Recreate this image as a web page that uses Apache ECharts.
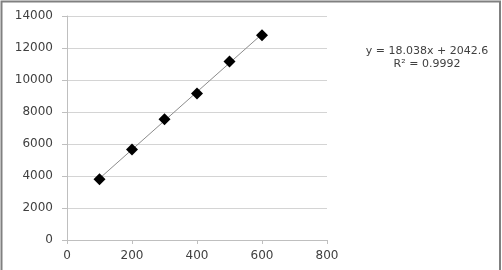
<!DOCTYPE html>
<html>
<head>
<meta charset="utf-8">
<script src="https://cdn.jsdelivr.net/npm/echarts@6/dist/echarts.min.js"></script>
<style>html,body{margin:0;padding:0;background:#fff;}#c{width:502px;height:270px;}</style>
</head>
<body>
<div id="c"></div>
<script>
var xValues = [100, 200, 300, 400, 500, 600];
var yValues = [3800, 5650, 7550, 9150, 11150, 12800];
var trendSlope = 18.038;
var trendIntercept = 2042.6;
var equationLines = ['y = 18.038x + 2042.6', 'R² = 0.9992'];
var xTicks = [0, 200, 400, 600, 800];
var yTicks = [0, 2000, 4000, 6000, 8000, 10000, 12000, 14000];

var points = xValues.map(function (x, i) { return [x, yValues[i]]; });
var xMinData = Math.min.apply(null, xValues), xMaxData = Math.max.apply(null, xValues);
var trend = [[xMinData, trendSlope * xMinData + trendIntercept], [xMaxData, trendSlope * xMaxData + trendIntercept]];

var chart = echarts.init(document.getElementById('c'), null, {renderer: 'canvas'});
var font = '"DejaVu Sans"';
chart.setOption({
  animation: false,
  backgroundColor: '#fff',
  textStyle: {fontFamily: font},
  grid: {left: 67, top: 16, width: 260, height: 224, containLabel: false},
  xAxis: {
    type: 'value', min: xTicks[0], max: xTicks[xTicks.length - 1], interval: 200,
    axisLine: {show: true, lineStyle: {color: '#bfbfbf', width: 1}},
    axisTick: {show: true, length: 4, lineStyle: {color: '#bfbfbf'}},
    splitLine: {show: false},
    axisLabel: {color: '#404040', fontFamily: font, fontSize: 12, margin: 10, formatter: function (v) { return String(v); }}
  },
  yAxis: {
    type: 'value', min: yTicks[0], max: yTicks[yTicks.length - 1], interval: 2000,
    axisLine: {show: true, lineStyle: {color: '#bfbfbf', width: 1}},
    axisTick: {show: true, length: 5, lineStyle: {color: '#bfbfbf'}},
    splitLine: {show: true, lineStyle: {color: '#d4d4d4', width: 1}},
    axisLabel: {color: '#404040', fontFamily: font, fontSize: 12, margin: 14, formatter: function (v) { return String(v); }}
  },
  series: [
    {
      type: 'line', data: trend, symbol: 'none', z: 2,
      lineStyle: {color: '#8c8c8c', width: 1}
    },
    {
      type: 'scatter', data: points, symbol: 'diamond', symbolSize: 12, z: 3,
      itemStyle: {color: '#000', opacity: 1}
    }
  ],
  graphic: [
    {type: 'rect', shape: {x: 1.5, y: 1.5, width: 498.5, height: 270}, style: {fill: null, stroke: '#808080', lineWidth: 2}, silent: true},
    {type: 'text', x: 427, y: 51, style: {text: equationLines[0], font: '11px "DejaVu Sans"', fill: '#404040', textAlign: 'center', textVerticalAlign: 'middle'}},
    {type: 'text', x: 427, y: 64.5, style: {text: equationLines[1], font: '11px "DejaVu Sans"', fill: '#404040', textAlign: 'center', textVerticalAlign: 'middle'}}
  ]
});
</script>
</body>
</html>
